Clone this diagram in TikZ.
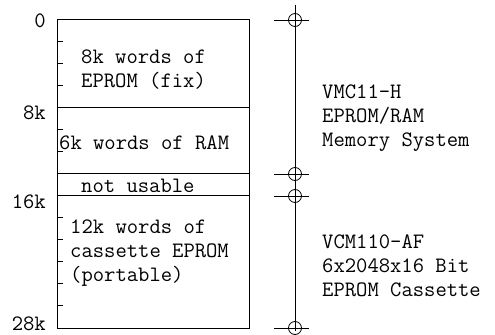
\documentclass[tikz,border=0pt]{standalone}
\usepackage{tikz}
\usetikzlibrary{positioning}

\begin{document}
\begin{tikzpicture}[
	x=1pt, y=-11pt,
	memtext/.style={font=\ttfamily\fontsize{22}{24}\selectfont, align=left, inner sep=0pt, anchor=west},
	addr/.style={font=\ttfamily\fontsize{22}{24}\selectfont, inner sep=0pt, anchor=east},
	scalemark/.style={line width=1pt},
	bus/.style={line width=0.8pt},
]
	\useasboundingbox (0,-1.818) rectangle (495,28.636);

	% memory map (0k at top, 28k at bottom)
	\draw[line width=1pt] (57,0) rectangle (249,28);
	\draw[line width=1pt] (57,8) -- (249,8);
	\draw[line width=1pt] (57,14) -- (249,14);
	\draw[line width=1pt] (57,16) -- (249,16);
	\foreach \k in {2,4,6,10,12,18,20,22,24,26}
		\draw[scalemark] (57,\k) -- (63,\k);

	\node[memtext] (eprom) at (81,4.5) {8k words of\\EPROM (fix)};
	\node[memtext] (ram) at (59,11.2) {6k words of RAM};
	\node[memtext] (unusable) at (81,15.1) {not usable};
	\node[memtext] (cassette) at (70,21.2) {12k words of\\cassette EPROM\\(portable)};

	\node[addr] (a0) at (46,0.1) {0};
	\node[addr] (a8) at (46,8.45) {8k};
	\node[addr] (a16) at (46,16.5) {16k};
	\node[addr] (a28) at (46,27.6) {28k};

	% system bus with the module borders
	\draw[bus] (295,-1.4) -- (295,28.3);
	\foreach \k in {0,14,16,28} {
		\draw[bus] (295,\k) circle[radius=6.5pt];
		\draw[bus] (274,\k) -- (309,\k);
	}

	\node[memtext] (vmc) at (322,8.9) {VMC11-H\\EPROM/RAM\\Memory System};
	\node[memtext] (vcm) at (322,22.3) {VCM110-AF\\6x2048x16 Bit\\EPROM Cassette};
\end{tikzpicture}
\end{document}
